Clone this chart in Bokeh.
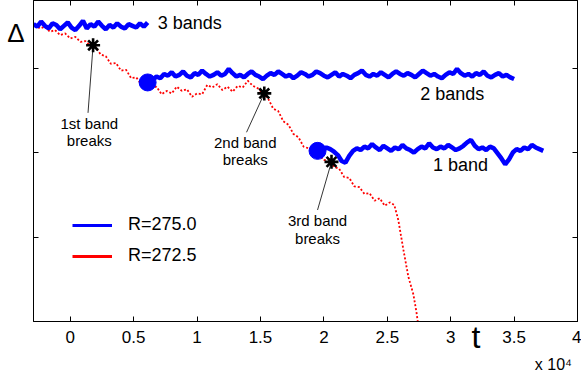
from bokeh.plotting import figure
from bokeh.models import Label, LinearAxis, FixedTicker, Legend, LegendItem, Range1d
from bokeh.embed import file_html
from bokeh.resources import INLINE

FONT = "Liberation Sans"

# ---------------- data (t in units of 10^4) ----------------
x_ticks = [0, 0.5, 1, 1.5, 2, 2.5, 3, 3.5, 4]
x_tick_labels = ["0", "0.5", "1", "1.5", "2", "2.5", "3", "3.5", "4"]
y_ticks = [1, 2, 3]
x_title = "t"
y_title = "\u0394"
x_scale_note = "x 10\u2074"

# R=275.0, three-band state
blue3_t = [-0.29, -0.26, -0.23, -0.20, -0.17, -0.14, -0.11, -0.08, -0.05, -0.02,
           0.01, 0.04, 0.07, 0.10, 0.13, 0.16, 0.19, 0.22, 0.25, 0.28,
           0.31, 0.34, 0.37, 0.40, 0.43, 0.46, 0.49, 0.52, 0.55, 0.58, 0.61]
blue3_v = [3.52, 3.49, 3.55, 3.50, 3.47, 3.53, 3.51, 3.46, 3.50, 3.54,
           3.48, 3.45, 3.50, 3.56, 3.47, 3.52, 3.49, 3.55, 3.50, 3.46,
           3.51, 3.48, 3.53, 3.49, 3.47, 3.52, 3.50, 3.48, 3.53, 3.49, 3.54]

# R=275.0, two-band state
blue2_t = [0.62, 0.65, 0.68, 0.71, 0.74, 0.77, 0.80, 0.83, 0.86, 0.89,
           0.92, 0.95, 0.98, 1.01, 1.04, 1.07, 1.10, 1.13, 1.16, 1.19,
           1.22, 1.25, 1.28, 1.31, 1.34, 1.37, 1.40, 1.43, 1.46, 1.49,
           1.52, 1.55, 1.58, 1.61, 1.64, 1.67, 1.70, 1.73, 1.76, 1.79,
           1.82, 1.85, 1.88, 1.91, 1.94, 1.97, 2.00, 2.03, 2.06, 2.09,
           2.12, 2.15, 2.18, 2.21, 2.24, 2.27, 2.30, 2.33, 2.36, 2.39,
           2.42, 2.45, 2.48, 2.51, 2.54, 2.57, 2.60, 2.63, 2.66, 2.69,
           2.72, 2.75, 2.78, 2.81, 2.84, 2.87, 2.90, 2.93, 2.96, 2.99,
           3.02, 3.05, 3.08, 3.11, 3.14, 3.17, 3.20, 3.23, 3.26, 3.29,
           3.32, 3.35, 3.38, 3.41, 3.44, 3.47, 3.50]
blue2_v = [2.84, 2.86, 2.90, 2.88, 2.93, 2.91, 2.95, 2.90, 2.92, 2.96,
           2.91, 2.89, 2.94, 2.92, 2.97, 2.93, 2.90, 2.92, 2.95, 2.91,
           2.93, 2.99, 2.94, 2.90, 2.92, 2.89, 2.93, 2.96, 2.92, 2.90,
           2.87, 2.91, 2.94, 2.92, 2.96, 2.93, 2.90, 2.92, 2.88, 2.91,
           2.95, 2.93, 2.90, 2.92, 2.96, 2.94, 2.91, 2.89, 2.92, 2.95,
           2.90, 2.93, 2.91, 2.88, 2.92, 2.94, 2.97, 2.92, 2.90, 2.93,
           2.91, 2.95, 2.92, 2.89, 2.93, 2.96, 2.93, 2.91, 2.94, 2.92,
           2.89, 2.93, 2.97, 2.94, 2.91, 2.93, 2.90, 2.88, 2.92, 2.95,
           2.93, 2.99, 2.94, 2.91, 2.93, 2.90, 2.94, 2.92, 2.96, 2.91,
           2.89, 2.92, 2.94, 2.90, 2.92, 2.89, 2.87]

# R=275.0, one-band state
blue1_t = [1.96, 1.99, 2.02, 2.05, 2.08, 2.11, 2.14, 2.17, 2.20, 2.23,
           2.26, 2.29, 2.32, 2.35, 2.38, 2.41, 2.44, 2.47, 2.50, 2.53,
           2.56, 2.59, 2.62, 2.65, 2.68, 2.71, 2.74, 2.77, 2.80, 2.83,
           2.86, 2.89, 2.92, 2.95, 2.98, 3.01, 3.04, 3.07, 3.10, 3.13,
           3.16, 3.19, 3.22, 3.25, 3.28, 3.31, 3.34, 3.37, 3.40, 3.43,
           3.46, 3.49, 3.52, 3.55, 3.58, 3.61, 3.64, 3.67, 3.70, 3.73]
blue1_v = [2.00, 2.03, 2.06, 2.04, 2.01, 1.97, 1.90, 1.88, 1.96, 2.02,
           2.05, 2.03, 2.07, 2.05, 2.10, 2.06, 2.03, 2.08, 2.05, 2.02,
           2.06, 2.04, 2.09, 2.05, 2.03, 2.00, 2.04, 2.07, 2.05, 2.11,
           2.06, 2.04, 2.07, 2.05, 2.09, 2.06, 2.03, 2.05, 2.08, 2.12,
           2.15, 2.08, 2.04, 2.06, 2.03, 2.07, 2.05, 1.99, 1.93, 1.86,
           1.92, 2.00, 2.04, 2.02, 2.06, 2.04, 2.09, 2.06, 2.04, 2.02]

# R=272.5 trajectory
red_t = [-0.28, -0.24, -0.20, -0.16, -0.12, -0.08, -0.04, 0.00, 0.04, 0.08,
         0.12, 0.16, 0.20, 0.24, 0.28, 0.32, 0.36, 0.40, 0.44, 0.48,
         0.52, 0.56, 0.60, 0.64, 0.68, 0.72, 0.76, 0.80, 0.84, 0.88,
         0.92, 0.96, 1.00, 1.04, 1.08, 1.12, 1.16, 1.20, 1.24, 1.28,
         1.32, 1.36, 1.40, 1.44, 1.48, 1.52, 1.56, 1.60, 1.64, 1.68,
         1.72, 1.76, 1.80, 1.84, 1.88, 1.92, 1.96, 2.00, 2.04, 2.08,
         2.12, 2.16, 2.20, 2.24, 2.28, 2.32, 2.36, 2.40, 2.44, 2.48,
         2.52, 2.555, 2.587, 2.627, 2.666, 2.706, 2.73, 2.745]
red_v = [3.51, 3.47, 3.49, 3.43, 3.45, 3.39, 3.41, 3.35, 3.37, 3.31,
         3.32, 3.26, 3.25, 3.16, 3.14, 3.05, 3.06, 2.97, 2.98, 2.88,
         2.89, 2.81, 2.82, 2.76, 2.78, 2.69, 2.73, 2.70, 2.78, 2.73,
         2.75, 2.66, 2.70, 2.69, 2.80, 2.77, 2.81, 2.74, 2.78, 2.72,
         2.79, 2.77, 2.85, 2.79, 2.76, 2.70, 2.64, 2.52, 2.49, 2.37,
         2.33, 2.22, 2.18, 2.07, 2.05, 1.97, 1.98, 1.91, 1.92, 1.83,
         1.81, 1.71, 1.70, 1.60, 1.59, 1.51, 1.52, 1.43, 1.46, 1.37,
         1.41, 1.38, 1.20, 0.85, 0.53, 0.32, 0.11, -0.05]

# band re-formation points (big dots) and break points (stars)
dot_t = [0.61, 1.95]
dot_v = [2.83, 2.02]
star_t = [0.18, 1.53, 2.06]
star_v = [3.27, 2.70, 1.89]
leader_t = [0.14, 1.39, 1.95]
leader_v = [2.47, 2.24, 1.32]

# positions (data units) where the outside texts are anchored
X_TITLE_AT = 3.20
X_NOTE_AT = 3.81
Y_TITLE_AT = 3.42

# ---------------- figure ----------------
p = figure(width=581, height=375, output_backend="svg", toolbar_location=None,
           x_range=Range1d(-0.29, 4.0), y_range=Range1d(0, 3.80),
           min_border_left=33, min_border_right=4, min_border_top=0,
           min_border_bottom=53)
p.background_fill_color = "white"
p.border_fill_color = "white"
p.outline_line_color = "black"
p.outline_line_width = 1
p.xgrid.visible = False
p.ygrid.visible = False

xa = p.xaxis[0]
xa.ticker = FixedTicker(ticks=x_ticks)
xa.major_label_overrides = {t: s for t, s in zip(x_ticks, x_tick_labels)}
xa.major_tick_in = 5
xa.major_tick_out = 0
xa.minor_tick_line_color = None
xa.axis_line_color = "black"
xa.major_tick_line_color = "black"
xa.major_label_text_font = FONT
xa.major_label_text_font_size = "17px"
xa.major_label_text_color = "black"
xa.major_label_standoff = 9

ya = p.yaxis[0]
ya.ticker = FixedTicker(ticks=y_ticks)
ya.major_label_overrides = {t: "" for t in y_ticks}
ya.major_label_text_font_size = "0px"
ya.major_tick_in = 5
ya.major_tick_out = 0
ya.minor_tick_line_color = None
ya.axis_line_color = "black"
ya.major_label_standoff = 0

top = LinearAxis(ticker=FixedTicker(ticks=x_ticks),
                 major_label_overrides={t: "" for t in x_ticks},
                 major_label_text_font_size="0px", major_label_standoff=0,
                 major_tick_in=5, major_tick_out=0, minor_tick_line_color=None,
                 axis_line_color="black")
p.add_layout(top, "above")
right = LinearAxis(ticker=FixedTicker(ticks=y_ticks),
                   major_label_overrides={t: "" for t in y_ticks},
                   major_label_text_font_size="0px", major_label_standoff=0,
                   major_tick_in=5, major_tick_out=0, minor_tick_line_color=None,
                   axis_line_color="black")
p.add_layout(right, "right")


def text_axis(pos, text, size, standoff):
    return LinearAxis(ticker=FixedTicker(ticks=[pos]),
                      major_label_overrides={pos: text},
                      major_label_text_font=FONT, major_label_text_font_size=size,
                      major_label_text_color="black", major_label_standoff=standoff,
                      major_tick_in=0, major_tick_out=0, major_tick_line_color=None,
                      minor_tick_line_color=None, axis_line_color=None)


# axis titles carried as tick labels of label-only axes (drawn outside the frame)
p.add_layout(text_axis(Y_TITLE_AT, y_title, "26px", 9), "left")
p.add_layout(text_axis(X_TITLE_AT, x_title, "32px", -27), "below")
p.add_layout(text_axis(X_NOTE_AT, x_scale_note, "16px", -2), "below")

BLUE = "#0000ff"
RED = "#ff0000"

p.line(red_t, red_v, line_color=RED, line_width=1.8, line_dash="2 2")
p.line(blue3_t, blue3_v, line_color=BLUE, line_width=4.5)
p.line(blue2_t, blue2_v, line_color=BLUE, line_width=4.5)
p.line(blue1_t, blue1_v, line_color=BLUE, line_width=4.5)
p.scatter(dot_t, dot_v, marker="circle", size=17, fill_color=BLUE, line_color=BLUE)
p.segment(x0=star_t, y0=star_v, x1=leader_t, y1=leader_v, line_color="black", line_width=0.8)
p.scatter(star_t, star_v, marker="asterisk", size=14, line_color="black", line_width=2.6)

# legend samples: zero-length solid lines (invisible in the plot, solid in the legend)
rb = p.line([blue3_t[0], blue3_t[0]], [blue3_v[0], blue3_v[0]], line_color=BLUE, line_width=3)
rr = p.line([red_t[0], red_t[0]], [red_v[0], red_v[0]], line_color=RED, line_width=3)
legend = Legend(items=[LegendItem(label="R=275.0", renderers=[rb]),
                       LegendItem(label="R=272.5", renderers=[rr])],
                location=(39, 55), border_line_color=None, background_fill_alpha=0,
                padding=0, margin=0, spacing=10, glyph_width=40, glyph_height=20,
                label_height=20, label_standoff=16, label_text_font=FONT,
                label_text_font_size="18px", label_text_color="black")
p.add_layout(legend)


def lab(x, y, text, size, align="left"):
    p.add_layout(Label(x=x, y=y, text=text, text_font=FONT, text_font_size=size,
                       text_align=align, text_baseline="middle", text_color="black"))


lab(0.69, 3.53, "3 bands", "18px")
lab(2.76, 2.69, "2 bands", "18px")
lab(2.86, 1.85, "1 band", "18px")
lab(0.15, 2.34, "1st band", "15px", "center")
lab(0.15, 2.14, "breaks", "15px", "center")
lab(1.38, 2.12, "2nd band", "15px", "center")
lab(1.38, 1.92, "breaks", "15px", "center")
lab(1.95, 1.19, "3rd band", "15px", "center")
lab(1.95, 0.98, "breaks", "15px", "center")

open("out.html", "w").write(file_html(p, INLINE))
